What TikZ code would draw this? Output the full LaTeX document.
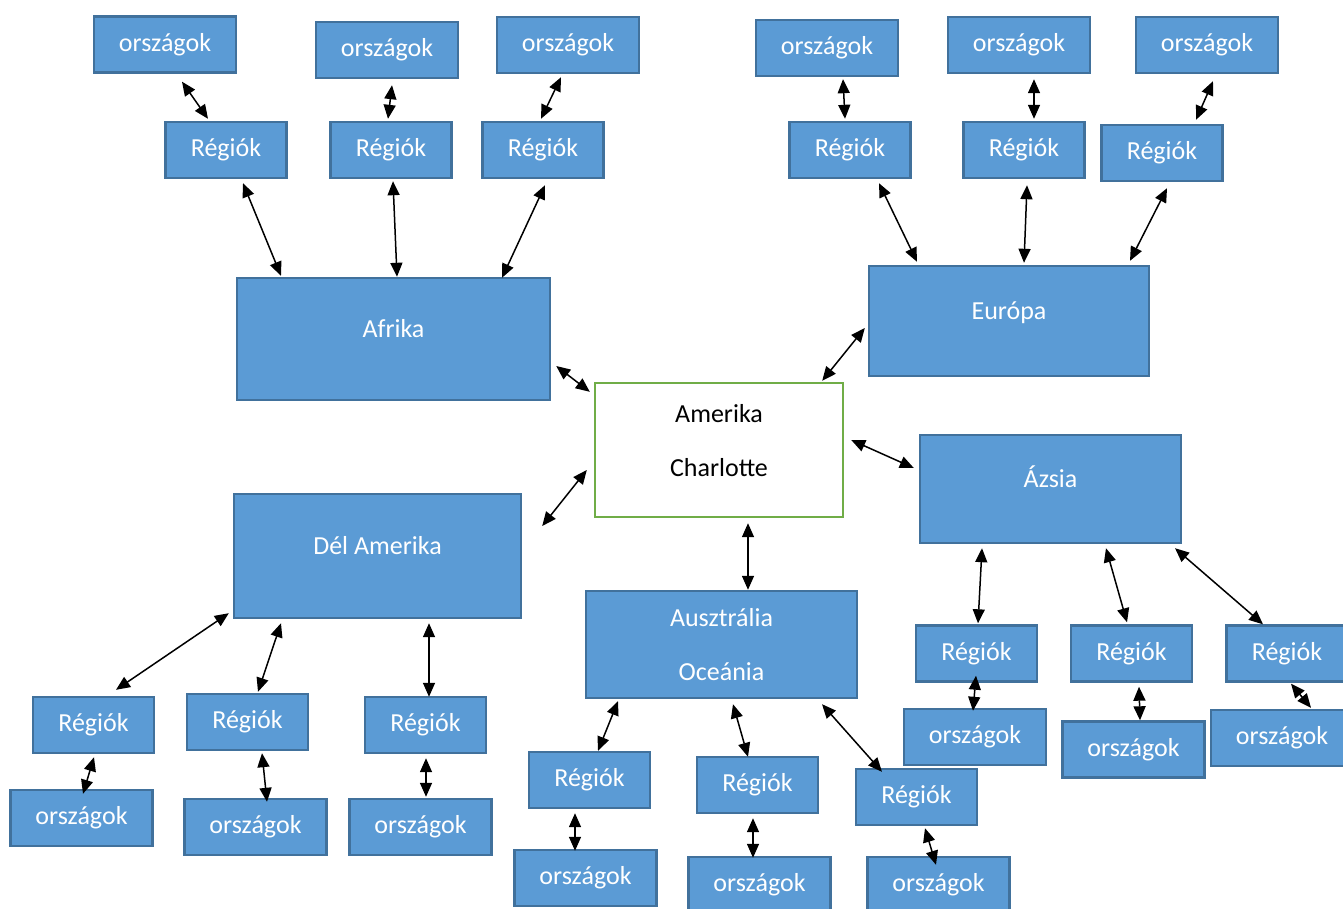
\documentclass[tikz,border=0pt]{standalone}
\usepackage{fontspec}
\setmainfont{Carlito}
\usetikzlibrary{arrows.meta,calc}

\definecolor{kekfill}{HTML}{5B9BD5}
\definecolor{kekvonal}{HTML}{41719C}
\definecolor{zold}{HTML}{70AD47}

\tikzset{
  doboz/.style={draw=kekvonal, line width=1.2pt, fill=kekfill, text=white,
    font=\fontsize{13}{16}\selectfont, inner sep=0pt},
  orszag/.style={doboz, minimum width=71pt, minimum height=28pt},
  regio/.style={doboz, minimum width=60.5pt, minimum height=28pt},
  kontinens/.style={doboz, text height=9pt, text depth=11pt},
  nyil/.style={{Triangle[length=7pt,width=6pt]}-{Triangle[length=7pt,width=6pt]}, line width=0.75pt},
}

\begin{document}
\begin{tikzpicture}[x=0.5pt,y=-0.5pt]
\useasboundingbox (0,0) rectangle (1343,909);

% kozep
\node[draw=zold, line width=1.2pt, fill=white, minimum width=124pt, minimum height=67pt,
  align=center, font=\fontsize{13}{16}\selectfont] (am) at (719,450)
  {Amerika\\[11pt]Charlotte\rule[-10pt]{0pt}{10pt}};

% kontinensek
\node[kontinens, minimum width=156.5pt, minimum height=61pt] (afr) at (393.5,339) {Afrika};
\node[kontinens, minimum width=140pt, minimum height=55pt] (eur) at (1009,321) {Európa};
\node[kontinens, minimum width=130.5pt, minimum height=54pt] (asia) at (1050.5,489) {Ázsia};
\node[kontinens, minimum width=143.5pt, minimum height=62pt] (del) at (377.5,556) {Dél Amerika};
\node[doboz, align=center, minimum width=135.5pt, minimum height=53.5pt] (aus) at (721.5,644.5)
  {Ausztrália\\[11pt]Oceánia};

% Afrika
\node[orszag] (o1) at (165,44.5) {országok};
\node[orszag] (o2) at (387,50) {országok};
\node[orszag] (o3) at (568,45) {országok};
\node[regio] (r1) at (226,150) {Régiók};
\node[regio] (r2) at (391,150) {Régiók};
\node[regio] (r3) at (543,150) {Régiók};

% Europa
\node[orszag] (o4) at (827,48) {országok};
\node[orszag] (o5) at (1019,45) {országok};
\node[orszag] (o6) at (1207,45) {országok};
\node[regio] (r4) at (850,150) {Régiók};
\node[regio] (r5) at (1024,150) {Régiók};
\node[regio] (r6) at (1162,153) {Régiók};

% Azsia
\node[regio] (r7) at (976.5,653.5) {Régiók};
\node[regio] (r8) at (1131.5,653.5) {Régiók};
\node[regio] (r9) at (1287,653.5) {Régiók};
\node[orszag] (o7) at (975,737) {országok};
\node[orszag] (o8) at (1133.5,749.5) {országok};
\node[orszag] (o9) at (1282,738) {országok};

% Del Amerika
\node[regio] (r10) at (93.5,725) {Régiók};
\node[regio] (r11) at (247.5,722) {Régiók};
\node[regio] (r12) at (425.5,725) {Régiók};
\node[orszag] (o10) at (81.5,818) {országok};
\node[orszag] (o11) at (255.5,827) {országok};
\node[orszag] (o12) at (420.5,827) {országok};

% Ausztralia
\node[regio] (r13) at (589.5,780) {Régiók};
\node[regio] (r14) at (757.5,785) {Régiók};
\node[regio] (r15) at (916.5,797) {Régiók};
\node[orszag] (o13) at (585.5,878) {országok};
\node[orszag] (o14) at (759.5,885) {országok};
\node[orszag] (o15) at (938.5,885) {országok};

% nyilak
\draw[nyil] ($(o1.south)+(17,8)$) -- ($(r1.north)+(-18,-2)$);
\draw[nyil] ($(o2.south)+(5,6)$) -- ($(r2.north)+(-3,-2)$);
\draw[nyil] ($(o3.south)+(-7,3)$) -- ($(r3.north)+(-2,-2)$);
\draw[nyil] ($(r1.south)+(17,4)$) -- ($(afr.north)+(-112.5,-1)$);
\draw[nyil] ($(r2.south)+(2,2)$) -- ($(afr.north)+(3.5,0)$);
\draw[nyil] ($(r3.south)+(2,6)$) -- ($(afr.north)+(108.5,1)$);

\draw[nyil] ($(o4.south)+(16,2)$) -- ($(r4.north)+(-5,-2)$);
\draw[nyil] ($(o5.south)+(15,5)$) -- ($(r5.north)+(10,-2)$);
\draw[nyil] ($(o6.south)+(6,7)$) -- ($(r6.north)+(34,-4)$);
\draw[nyil] ($(r4.south)+(29,4)$) -- ($(eur.north)+(-92,-3)$);
\draw[nyil] ($(r5.south)+(3,6)$) -- ($(eur.north)+(15,-2)$);
\draw[nyil] ($(r6.south)+(5,6)$) -- ($(eur.north)+(121,-4)$);

\draw[nyil] ($(afr.east)+(5,27)$) -- ($(am.north west)+(-4,10)$);
\draw[nyil] ($(eur.west)+(-3,7)$) -- ($(am.north east)+(-22,-1)$);
\draw[nyil] ($(am.east)+(7,-10)$) -- ($(asia.west)+(-5,-21)$);
\draw[nyil] ($(am.west)+(-7,20)$) -- ($(del.east)+(20,-30)$);
\draw[nyil] ($(am.south)+(29,5)$) -- ($(aus.north)+(26.5,0)$);

\draw[nyil] ($(asia.south)+(-68.5,4)$) -- ($(r7.north)+(1.5,-1)$);
\draw[nyil] ($(asia.south)+(55.5,4)$) -- ($(r8.north)+(-4.5,-2)$);
\draw[nyil] ($(asia.south)+(124.5,4)$) -- ($(r9.north)+(-24,0)$);
\draw[nyil] ($(r7.south)+(-0.5,-7)$) -- ($(o7.north)+(-2,3)$);
\draw[nyil] ($(r8.south)+(7.5,4)$) -- ($(o8.north)+(6.5,0)$);
\draw[nyil] ($(r9.south)+(4,1)$) -- ($(o9.north)+(29,-1)$);

\draw[nyil] ($(del.south west)+(-4,-6)$) -- ($(r10.north)+(22.5,-6)$);
\draw[nyil] ($(del.south)+(-96.5,4)$) -- ($(r11.north)+(10.5,-1)$);
\draw[nyil] ($(del.south)+(51.5,4)$) -- ($(r12.north)+(3.5,1)$);
\draw[nyil] ($(r10.south)+(0.5,3)$) -- ($(o10.north)+(1.5,5)$);
\draw[nyil] ($(r11.south)+(14.5,2)$) -- ($(o11.north)+(11.5,4)$);
\draw[nyil] ($(r12.south)+(0.5,4)$) -- ($(o12.north)+(5.5,-1)$);

\draw[nyil] ($(aus.south)+(-103.5,2)$) -- ($(r13.north)+(8.5,0)$);
\draw[nyil] ($(aus.south)+(11.5,5)$) -- ($(r14.north)+(-9.5,1)$);
\draw[nyil] ($(aus.south)+(100.5,5)$) -- ($(r15.north)+(-34.5,4)$);
\draw[nyil] ($(r13.south)+(-14.5,4)$) -- ($(o13.north)+(-10.5,2)$);
\draw[nyil] ($(r14.south)+(-4.5,4)$) -- ($(o14.north)+(-6.5,2)$);
\draw[nyil] ($(r15.south)+(8.5,2)$) -- ($(o15.north)+(-2.5,9)$);
\end{tikzpicture}
\end{document}
